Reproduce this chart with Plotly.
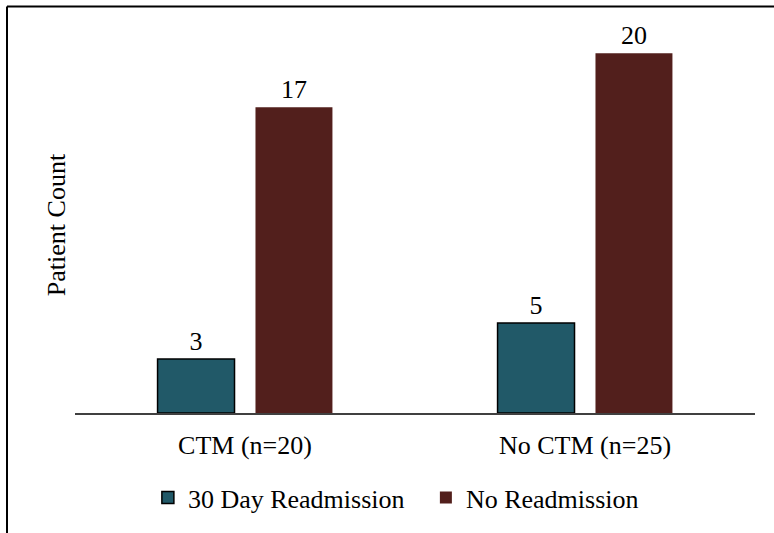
import plotly.graph_objects as go

categories = ["CTM (n=20)", "No CTM (n=25)"]
readmission = [3, 5]
no_readmission = [17, 20]
series_names = ["30 Day Readmission", "No Readmission"]

TEAL = "#215968"
MAROON = "#521F1C"
FONT = "Liberation Serif, Times New Roman, serif"
FS = 26

fig = go.Figure()
fig.add_trace(go.Bar(
    x=categories, y=readmission, name=series_names[0],
    marker=dict(color=TEAL, line=dict(color="#000000", width=1.5)),
    text=readmission, textposition="outside", cliponaxis=False,
    textfont=dict(size=FS, color="#000000", family=FONT),
))
fig.add_trace(go.Bar(
    x=categories, y=no_readmission, name=series_names[1],
    marker=dict(color=MAROON, line=dict(color=MAROON, width=0)),
    text=no_readmission, textposition="outside", cliponaxis=False,
    textfont=dict(size=FS, color="#000000", family=FONT),
))

fig.update_layout(
    width=774, height=533,
    margin=dict(l=75, r=19, t=37, b=120),
    paper_bgcolor="white", plot_bgcolor="white",
    barmode="group", bargap=0.424, bargroupgap=0.214,
    font=dict(family=FONT, size=FS, color="#000000"),
    showlegend=True,
    legend=dict(orientation="h", x=0.516, xanchor="center", y=-0.225, yanchor="middle",
                font=dict(size=FS, family=FONT), traceorder="normal",
                itemwidth=30, entrywidth=233, entrywidthmode="pixels"),
    xaxis=dict(showline=True, linecolor="#404040", linewidth=1.5, ticks="",
               tickfont=dict(size=FS, family=FONT), showgrid=False,
               ticklabelstandoff=8),
    yaxis=dict(range=[0, 20.9], showticklabels=False, showgrid=False, zeroline=False,
               showline=False, ticks="",
               title=dict(text="Patient Count", font=dict(size=FS, family=FONT), standoff=0)),
    shapes=[
        dict(type="line", xref="paper", yref="paper", x0=-0.1, x1=1.05, y0=1.0811, y1=1.0811,
             line=dict(color="#000000", width=2)),
        dict(type="line", xref="paper", yref="paper", x0=-0.1, x1=-0.1, y0=1.0811, y1=-0.33,
             line=dict(color="#000000", width=2)),
    ],
)

fig.write_html("out.html", config={"displayModeBar": False},
               post_script="document.body.style.margin='0';document.body.style.padding='0';")
